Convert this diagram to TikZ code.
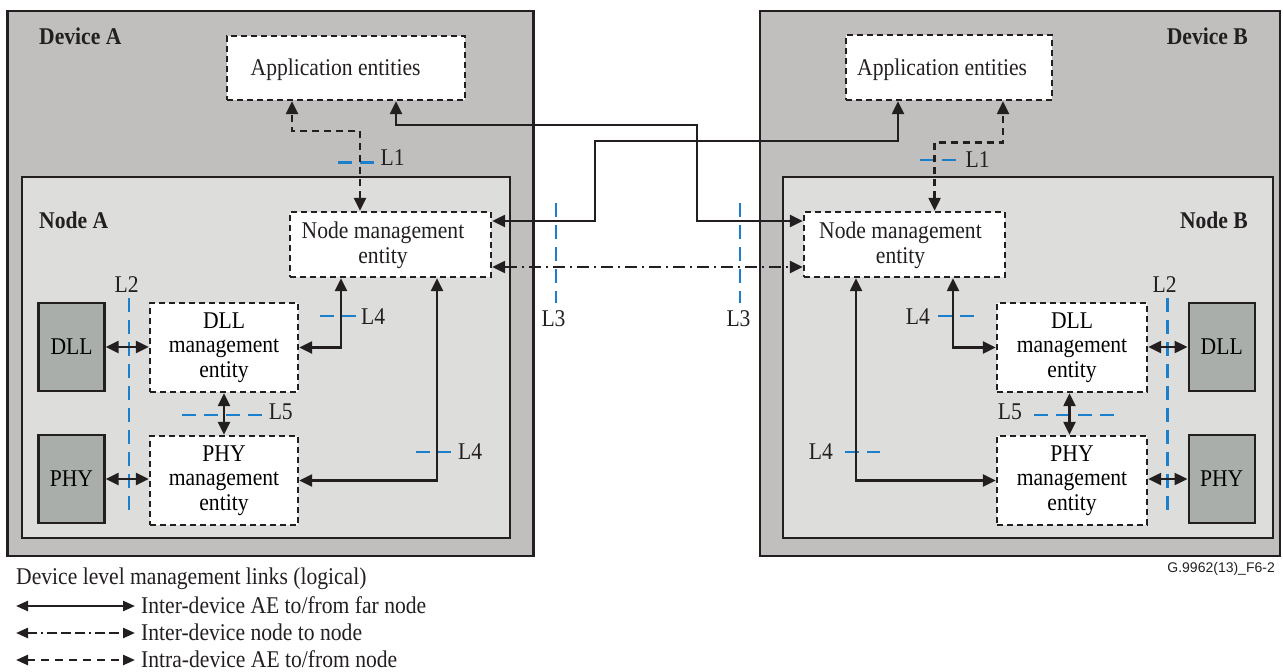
\documentclass[tikz,border=0pt]{standalone}
\usepackage{fontspec}
\setmainfont{Liberation Serif}[FakeStretch=0.9]
\newfontfamily\figsans{Liberation Sans}
\usetikzlibrary{arrows.meta}
\definecolor{ink}{HTML}{231F20}
\definecolor{devgray}{HTML}{C0BFBD}
\definecolor{nodegray}{HTML}{DDDDDC}
\definecolor{blockgray}{HTML}{A9AEAB}
\definecolor{lblue}{HTML}{1B7FCC}
\begin{document}
\begin{tikzpicture}[x=1pt,y=-1pt,
  font=\fontsize{24}{25}\selectfont,
  devbox/.style={draw=ink, line width=2.4pt, fill=devgray, inner sep=0},
  nodebox/.style={draw=ink, line width=2.4pt, fill=nodegray, inner sep=0},
  entbox/.style={draw=ink, line width=2.4pt, dash pattern=on 6pt off 4pt, fill=white, inner sep=0, align=center, font=\fontsize{24}{24.5}\selectfont},
  layerbox/.style={draw=ink, line width=2.4pt, fill=blockgray, inner sep=0},
  lbl/.style={inner sep=0, text=ink},
  ttl/.style={inner sep=0, text=ink, font=\fontsize{24}{25}\selectfont\bfseries},
  inter/.style={draw=ink, line width=2.4pt, {Triangle[length=13pt,width=12pt]}-{Triangle[length=13pt,width=12pt]}},
  intra/.style={inter, dash pattern=on 7pt off 5pt},
  nodelink/.style={inter, dash pattern=on 12pt off 5pt on 2pt off 5pt},
  leg/.style={draw=ink, line width=2.4pt, {Triangle[length=12pt,width=10pt]}-{Triangle[length=12pt,width=10pt]}},
  cut/.style={draw=lblue, line width=2.4pt, dash pattern=on 14pt off 8pt}
]
\useasboundingbox (0,0) rectangle (1283,672);

% devices and nodes
\node[devbox, minimum width=526, minimum height=545] (devA) at (270.5,283.5) {};
\node[devbox, minimum width=520, minimum height=545] (devB) at (1020,283.5) {};
\node[nodebox, minimum width=488, minimum height=361] (nodA) at (266,357.5) {};
\node[nodebox, minimum width=490, minimum height=361] (nodB) at (1028,357.5) {};

\node[ttl, anchor=base west] (tDevA) at (39,44) {Device A};
\node[ttl, anchor=base east] (tDevB) at (1248,44) {Device B};
\node[ttl, anchor=base west] (tNodA) at (39,228) {Node A};
\node[ttl, anchor=base east] (tNodB) at (1248,228) {Node B};

% entity boxes
\node[entbox, minimum width=238, minimum height=64] (appA) at (346,68) {};
\node[lbl, anchor=base west] (appAt) at (250.5,75.5) {Application entities};
\node[entbox, minimum width=206, minimum height=65] (appB) at (949,67.5) {};
\node[lbl, anchor=base west] (appBt) at (857,75.5) {Application entities};

\node[entbox, minimum width=201, minimum height=65] (nmA) at (390.5,244.5) {};
\node[lbl, align=center] (nmAt) at (383,245) {Node management\\entity};
\node[entbox, minimum width=201, minimum height=65] (nmB) at (904.5,244.5) {};
\node[lbl, align=center] (nmBt) at (900.5,245) {Node management\\entity};

\node[entbox, minimum width=148, minimum height=89] (dllmA) at (224,347.5) {DLL\\management\\entity};
\node[entbox, minimum width=148, minimum height=89] (phymA) at (224,480.5) {PHY\\management\\entity};
\node[entbox, minimum width=150, minimum height=89] (dllmB) at (1072,347.5) {DLL\\management\\entity};
\node[entbox, minimum width=150, minimum height=89] (phymB) at (1072,480.5) {PHY\\management\\entity};

\node[layerbox, minimum width=66, minimum height=88] (dllA) at (71.5,347) {DLL};
\node[layerbox, minimum width=66, minimum height=88] (phyA) at (71.5,479) {PHY};
\node[layerbox, minimum width=66, minimum height=88] (dllB) at (1221.7,347) {DLL};
\node[layerbox, minimum width=66, minimum height=88] (phyB) at (1221.7,479) {PHY};

% blue cut markers
\draw[cut] (337.5,162.5) -- (375.5,162.5);
\draw[cut] (920,160) -- (960,160);
\draw[cut] (129,298) -- (129,511);
\draw[cut] (1167.4,298) -- (1167.4,511);
\draw[cut] (556,203) -- (556,303);
\draw[cut] (740,203) -- (740,303);
\draw[cut] (319.6,316) -- (357.4,316);
\draw[cut] (415.6,452) -- (451,452);
\draw[cut] (938,316) -- (977,316);
\draw[cut] (844.5,452) -- (880,452);
\draw[cut] (181.5,415) -- (261.7,415);
\draw[cut] (1033.8,415) -- (1115.4,415);

% connectors
\draw[intra] (360,0 |- nmA.north) |- (292,131) -- (292,0 |- appA.south);
\draw[intra] (934.6,0 |- nmB.north) |- (1003,142.3) -- (1003,0 |- appB.south);
\draw[inter] (396,0 |- appA.south) |- (697,125) |- (nmB.west |- 0,221);
\draw[inter] (898,0 |- appB.south) |- (595,141) |- (nmA.east |- 0,221);
\draw[nodelink] (nmA.east |- 0,267) -- (nmB.west |- 0,267);

\draw[inter] (341,0 |- nmA.south) |- (dllmA.east);
\draw[inter] (437,0 |- nmA.south) |- (phymA.east);
\draw[inter] (953,0 |- nmB.south) |- (dllmB.west);
\draw[inter] (856,0 |- nmB.south) |- (phymB.west);
\draw[inter] (dllmA.south) -- (phymA.north);
\draw[inter] (1069.5,0 |- dllmB.south) -- (1069.5,0 |- phymB.north);
\draw[inter] (dllA.east) -- (dllmA.west |- dllA.east);
\draw[inter] (phyA.east) -- (phymA.west |- phyA.east);
\draw[inter] (dllmB.east |- dllB.west) -- (dllB.west);
\draw[inter] (phymB.east |- phyB.west) -- (phyB.west);

% labels
\node[lbl, anchor=base west] (l1a) at (380.5,165) {L1};
\node[lbl, anchor=base west] (l1b) at (965.5,167) {L1};
\node[lbl, anchor=base] (l2a) at (126.7,292) {L2};
\node[lbl, anchor=base] (l2b) at (1164.7,292) {L2};
\node[lbl, anchor=base] (l3a) at (553.5,326) {L3};
\node[lbl, anchor=base] (l3b) at (738.5,326) {L3};
\node[lbl, anchor=west] (l4a) at (361,317) {L4};
\node[lbl, anchor=west] (l4b) at (458,451.7) {L4};
\node[lbl, anchor=east] (l4c) at (930,317) {L4};
\node[lbl, anchor=east] (l4d) at (833,451.7) {L4};
\node[lbl, anchor=west] (l5a) at (268.6,411.7) {L5};
\node[lbl, anchor=east] (l5b) at (1022,411.7) {L5};

\node[lbl, anchor=base east, font=\figsans\fontsize{14}{16}\selectfont] (fig) at (1275,572) {G.9962(13)\_F6-2};

% legend
\node[lbl, anchor=base west] (legT) at (16,584) {Device level management links (logical)};
\coordinate (lg1a) at (16,606);
\coordinate (lg1b) at (135,606);
\coordinate (lg2a) at (16,633);
\coordinate (lg2b) at (135,633);
\coordinate (lg3a) at (16,660);
\coordinate (lg3b) at (135,660);
\draw[leg] (lg1a) -- (lg1b);
\draw[leg, dash pattern=on 10pt off 4pt on 2pt off 4pt on 10pt off 4pt on 10pt off 4pt] (lg2a) -- (lg2b);
\draw[leg, dash pattern=on 8pt off 6pt] (lg3a) -- (lg3b);
\node[lbl, anchor=base west] (lg1) at (141,613) {Inter-device AE to/from far node};
\node[lbl, anchor=base west] (lg2) at (141,640) {Inter-device node to node};
\node[lbl, anchor=base west] (lg3) at (141,667) {Intra-device AE to/from node};
\end{tikzpicture}
\end{document}
